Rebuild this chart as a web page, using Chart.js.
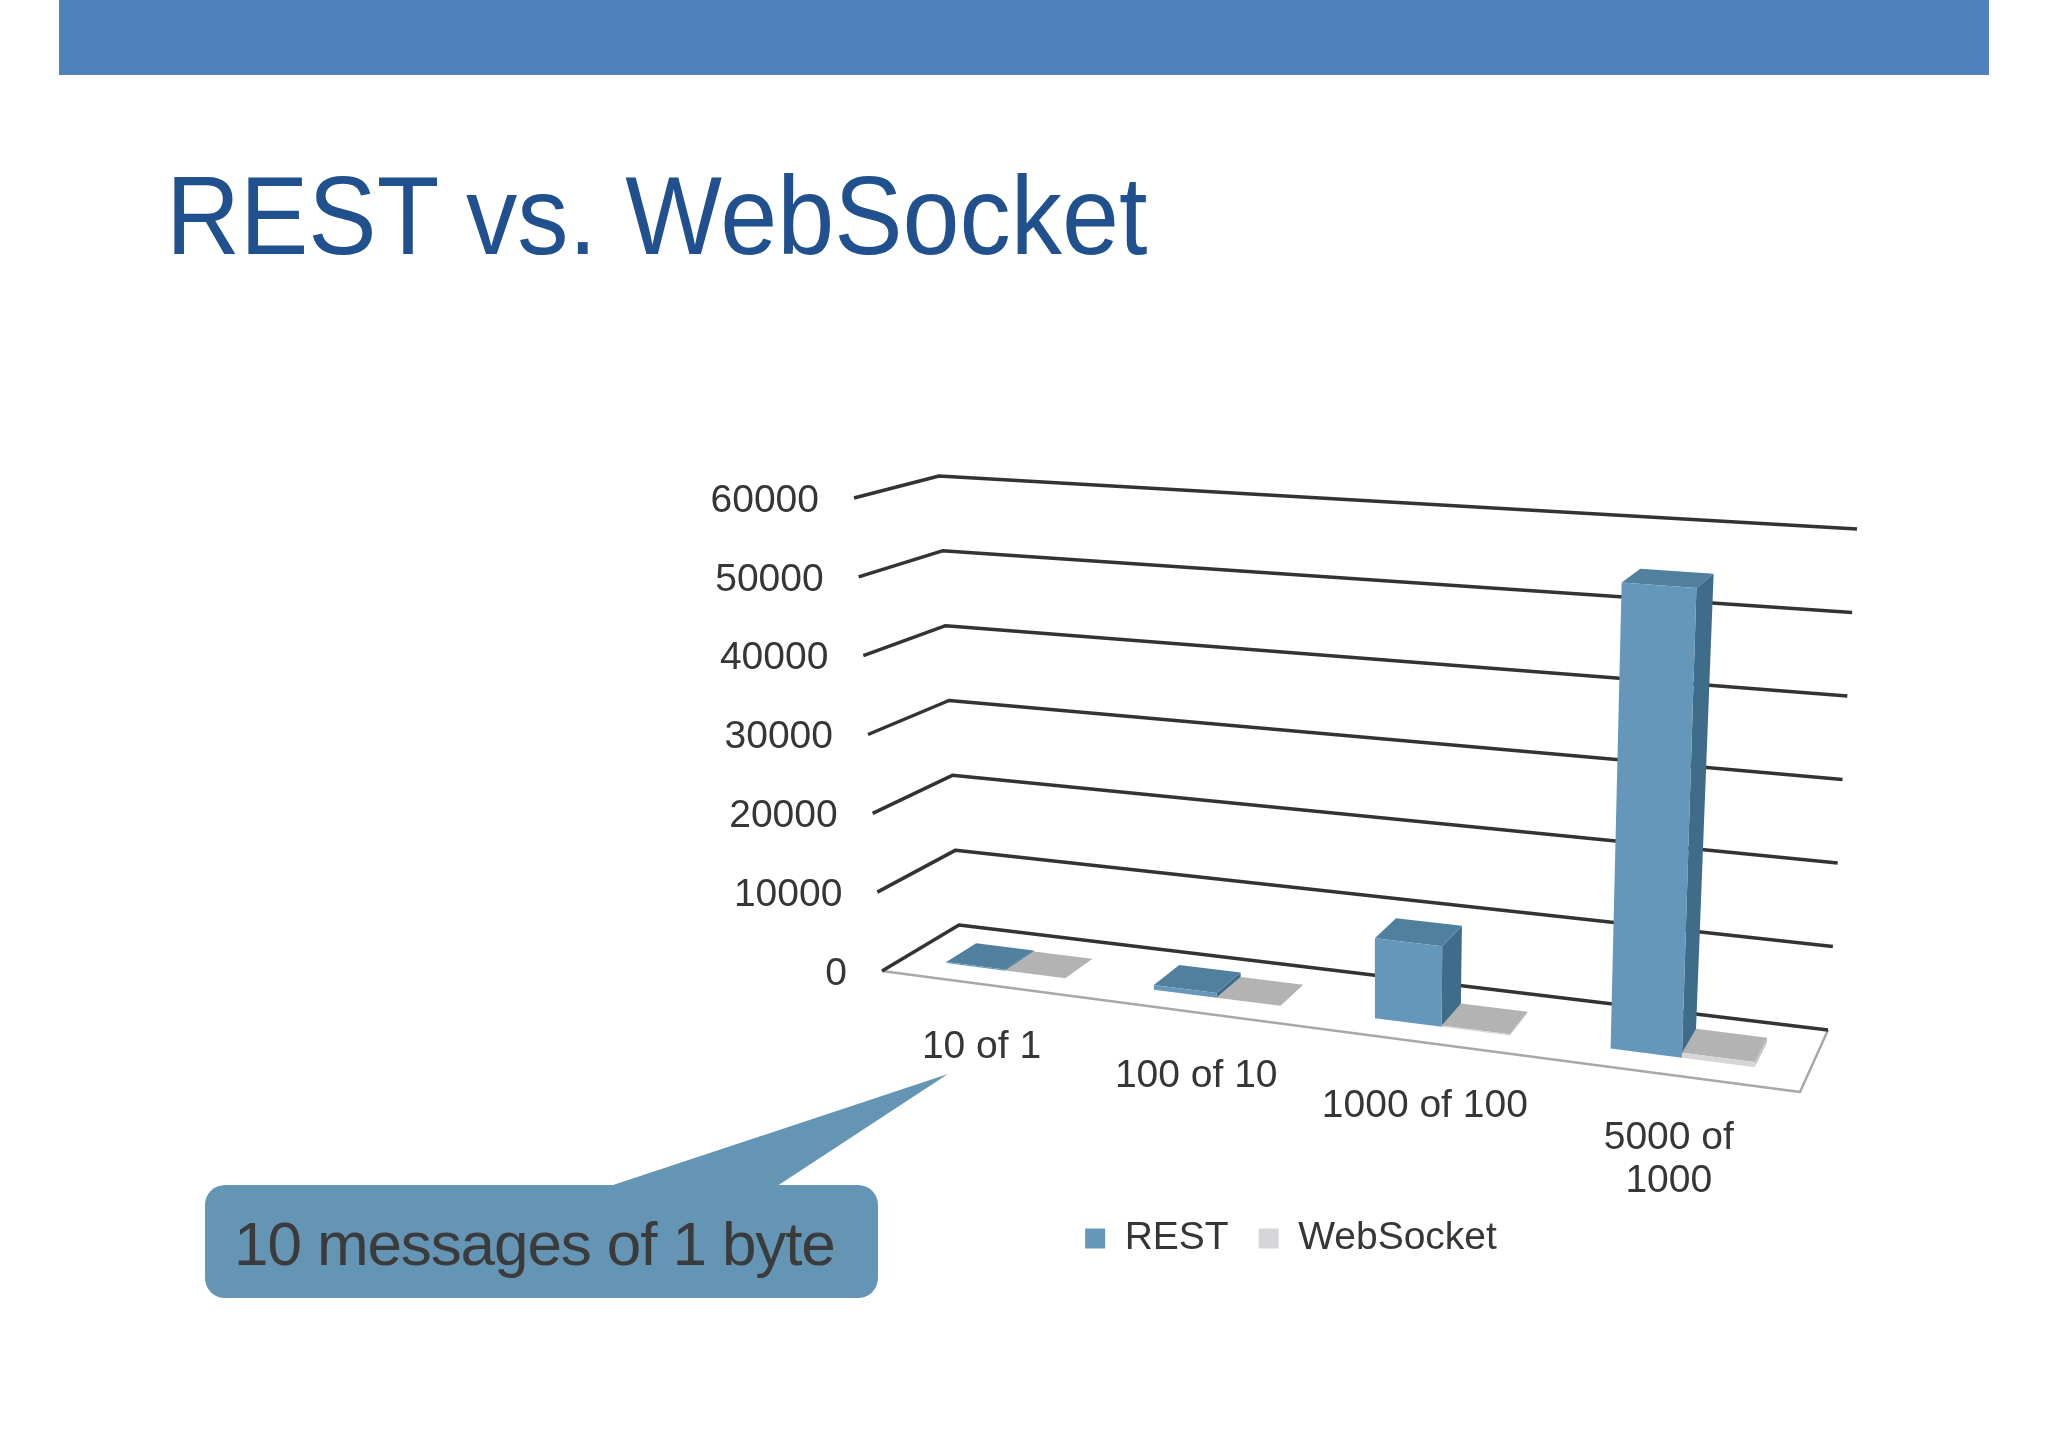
<!DOCTYPE html>
<html>
<head>
<meta charset="utf-8">
<title>REST vs. WebSocket</title>
<script src="https://cdn.jsdelivr.net/npm/chart.js@4.4.1/dist/chart.umd.min.js"></script>
<style>
  html, body { margin: 0; padding: 0; background: #fff; }
  body {
    width: 2048px; height: 1448px; position: relative; overflow: hidden;
    font-family: "Liberation Sans", Arial, sans-serif;
  }
  .top-bar { position: absolute; left: 59px; top: 0; width: 1930px; height: 75px; background: #4f81bd; }
  h1 {
    position: absolute; left: 166px; top: 160px; margin: 0;
    font-size: 112px; line-height: 112px; font-weight: normal; color: #21508e;
    transform: scaleX(0.915); transform-origin: 0 0; white-space: nowrap;
  }
  #chart { position: absolute; left: 0; top: 0; }
  .pointer { position: absolute; left: 0; top: 0; pointer-events: none; }
  .callout {
    position: absolute; left: 205px; top: 1185px; width: 673px; height: 113px;
    background: #6595b5; border-radius: 20px;
  }
  .callout span {
    position: absolute; left: 29px; top: 28px; white-space: nowrap;
    font-size: 62px; line-height: 62px; letter-spacing: -1.1px; color: #3b3b3b;
  }
</style>
</head>
<body>
<div class="top-bar"></div>
<h1>REST vs. WebSocket</h1>
<canvas id="chart" width="2048" height="1448"></canvas>
<svg class="pointer" width="2048" height="1448">
  <polygon points="598,1190 948,1074 771,1190" fill="#6595b5"></polygon>
</svg>
<div class="callout"><span>10 messages of 1 byte</span></div>

<script>
'use strict';

// ---- data ----
const categories = ['10 of 1', '100 of 10', '1000 of 100', ['5000 of', '1000']];
const seriesNames = ['REST', 'WebSocket'];
const restValues = [150, 600, 9700, 55000];
const webSocketValues = [5, 30, 150, 600];
const yTicks = [0, 10000, 20000, 30000, 40000, 50000, 60000];

// where the corners of the 3-D plot box land on the page, keyed u v w
// (u = along categories, v = value, w = depth from front to back)
const frame = {
    '000': [882, 971],  '010': [854, 498],  '001': [959, 925],  '011': [939, 476],
    '100': [1800, 1092], '110': [1820, 564], '101': [1828, 1030], '111': [1857, 529]
};
const barDepth = [0.29, 0.69];
const foreshorten = -0.12; // right side of the plot is nearer the camera

const FONT = '"Liberation Sans", Arial, sans-serif';
const TEXT_COLOR = '#363636';

function project(u, v, w) {
    u = u * (1 + foreshorten) / (1 + foreshorten * u);
    let x = 0, y = 0;
    for (const a of [0, 1]) {
        for (const b of [0, 1]) {
            for (const c of [0, 1]) {
                const k = (a ? u : 1 - u) * (b ? v : 1 - v) * (c ? w : 1 - w);
                const p = frame['' + a + b + c];
                x += k * p[0];
                y += k * p[1];
            }
        }
    }
    return [x, y];
}

function poly(ctx, points) {
    ctx.beginPath();
    points.forEach((p, i) => (i ? ctx.lineTo(p[0], p[1]) : ctx.moveTo(p[0], p[1])));
    ctx.closePath();
}

/**
 * Draws floor, gridlines, labels and bars in perspective,
 * using the chart's own scales and bar elements for every position.
 */
const perspectivePlugin = {
    id: 'perspective',
    beforeDatasetsDraw(chart) {
        const {ctx, chartArea: area, scales} = chart;
        const toU = px => (px - area.left) / (area.right - area.left);
        const toV = py => (area.bottom - py) / (area.bottom - area.top);

        ctx.save();
        ctx.lineJoin = 'round';

        // floor
        poly(ctx, [project(0, 0, 0), project(1, 0, 0), project(1, 0, 1), project(0, 0, 1)]);
        ctx.fillStyle = '#ffffff';
        ctx.fill();
        ctx.strokeStyle = '#a8a8a8';
        ctx.lineWidth = 2.5;
        ctx.beginPath();
        ctx.moveTo(...project(0, 0, 0));
        ctx.lineTo(...project(1, 0, 0));
        ctx.lineTo(...project(1, 0, 1));
        ctx.stroke();

        // gridlines on side wall and back wall + value labels
        ctx.font = '39px ' + FONT;
        ctx.fillStyle = TEXT_COLOR;
        ctx.textAlign = 'right';
        ctx.textBaseline = 'middle';
        scales.y.ticks.forEach(t => {
            const v = toV(scales.y.getPixelForValue(t.value));
            const a = project(0, v, 0);
            const b = project(0, v, 1);
            const c = project(1, v, 1);
            ctx.strokeStyle = '#333333';
            ctx.lineWidth = 3.5;
            ctx.beginPath();
            ctx.moveTo(a[0], a[1]);
            ctx.lineTo(b[0], b[1]);
            ctx.lineTo(c[0], c[1]);
            ctx.stroke();
            ctx.fillText(String(t.value), a[0] - 35, a[1] + 3);
        });

        // bars, left to right so nearer faces cover farther ones
        const [w0, w1] = barDepth;
        categories.forEach((cat, i) => {
            chart.data.datasets.forEach((ds, d) => {
                const el = chart.getDatasetMeta(d).data[i];
                const u0 = toU(el.x - el.width / 2);
                const u1 = toU(el.x + el.width / 2);
                const vb = toV(el.base);
                const vt = toV(el.y);

                poly(ctx, [project(u1, vb, w0), project(u1, vb, w1), project(u1, vt, w1), project(u1, vt, w0)]);
                ctx.fillStyle = ds.sideColor;
                ctx.fill();

                poly(ctx, [project(u0, vt, w0), project(u1, vt, w0), project(u1, vt, w1), project(u0, vt, w1)]);
                ctx.fillStyle = ds.topColor;
                ctx.fill();

                poly(ctx, [project(u0, vb, w0), project(u1, vb, w0), project(u1, vt, w0), project(u0, vt, w0)]);
                ctx.fillStyle = ds.backgroundColor;
                ctx.fill();
            });
        });

        // category labels under the front edge of the floor
        ctx.fillStyle = TEXT_COLOR;
        ctx.textAlign = 'center';
        categories.forEach((cat, i) => {
            const u = toU(scales.x.getPixelForValue(i));
            const p = project(u, 0, 0);
            const lines = Array.isArray(cat) ? cat : [cat];
            lines.forEach((line, k) => {
                ctx.fillText(line, p[0] - 3, p[1] + 63 + k * 43);
            });
        });

        ctx.restore();
        return false;
    }
};

Chart.defaults.font.family = FONT;

new Chart(document.getElementById('chart'), {
    type: 'bar',
    data: {
        labels: categories,
        datasets: [{
            label: seriesNames[0],
            data: restValues,
            backgroundColor: '#6497b9',
            topColor: '#50809e',
            sideColor: '#3f6d89',
            borderWidth: 0
        }, {
            label: seriesNames[1],
            data: webSocketValues,
            backgroundColor: '#d6d6d8',
            topColor: '#b3b3b3',
            sideColor: '#c6c6c6',
            borderWidth: 0
        }]
    },
    options: {
        responsive: false,
        devicePixelRatio: 1,
        animation: false,
        layout: {
            padding: {left: 700, right: 166, top: 480, bottom: 180}
        },
        datasets: {
            bar: {
                categoryPercentage: 0.58,
                barPercentage: 1.0
            }
        },
        scales: {
            x: {display: false, offset: true},
            y: {
                display: false,
                min: yTicks[0],
                max: yTicks[yTicks.length - 1],
                ticks: {stepSize: yTicks[1] - yTicks[0]}
            }
        },
        plugins: {
            legend: {
                position: 'bottom',
                labels: {
                    boxWidth: 20,
                    boxHeight: 20,
                    padding: 30,
                    color: TEXT_COLOR,
                    font: {size: 39}
                }
            },
            tooltip: {enabled: false}
        }
    },
    plugins: [perspectivePlugin]
});
</script>
</body>
</html>
